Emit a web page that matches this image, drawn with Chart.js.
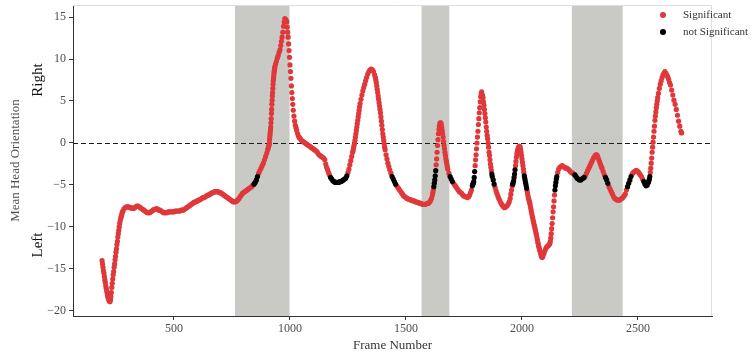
<!DOCTYPE html>
<html>
<head>
<meta charset="utf-8">
<script src="https://cdn.jsdelivr.net/npm/chart.js@4/dist/chart.umd.min.js"></script>
<style>
  html, body { margin: 0; padding: 0; background: #ffffff; }
  #wrap { width: 752px; height: 356px; }
</style>
</head>
<body>
<div id="wrap"><canvas id="chart" width="752" height="356"></canvas></div>
<script>
// Mean head orientation per video frame: [frame, degrees]
const headOrientation = [
  [190,-14.0],[192,-14.4],[194,-14.8],[196,-15.2],[198,-15.5],[200,-15.9],[202,-16.3],[204,-16.6],
  [206,-17.0],[208,-17.3],[210,-17.6],[212,-17.9],[214,-18.2],[216,-18.4],[218,-18.6],[220,-18.7],
  [222,-18.8],[224,-18.9],[226,-18.7],[228,-18.3],[230,-17.8],[232,-17.2],[234,-16.7],[236,-16.2],
  [238,-15.7],[240,-15.3],[242,-14.8],[244,-14.4],[246,-13.9],[248,-13.5],[250,-13.0],[252,-12.6],
  [254,-12.1],[256,-11.7],[258,-11.2],[260,-10.8],[262,-10.4],[264,-10.0],[266,-9.6],[268,-9.3],
  [270,-9.0],[272,-8.8],[274,-8.6],[276,-8.4],[278,-8.2],[280,-8.1],[285,-7.8],[290,-7.7],[295,-7.6],
  [300,-7.6],[305,-7.6],[310,-7.7],[315,-7.7],[320,-7.8],[325,-7.8],[330,-7.7],[335,-7.6],[340,-7.5],
  [345,-7.5],[350,-7.6],[355,-7.7],[360,-7.8],[365,-7.9],[370,-8.0],[375,-8.1],[380,-8.2],[385,-8.3],
  [390,-8.3],[395,-8.3],[400,-8.2],[405,-8.1],[410,-8.0],[415,-7.9],[420,-7.9],[425,-7.8],[430,-7.9],
  [435,-8.0],[440,-8.0],[445,-8.1],[450,-8.2],[455,-8.3],[460,-8.3],[465,-8.3],[470,-8.3],[475,-8.2],
  [480,-8.2],[485,-8.2],[490,-8.2],[495,-8.2],[500,-8.2],[505,-8.1],[510,-8.1],[515,-8.1],[520,-8.1],
  [525,-8.1],[530,-8.0],[535,-8.0],[540,-8.0],[545,-7.9],[550,-7.8],[555,-7.7],[560,-7.6],[565,-7.5],
  [570,-7.4],[575,-7.3],[580,-7.2],[585,-7.1],[590,-7.0],[595,-7.0],[600,-6.9],[605,-6.8],[610,-6.8],
  [615,-6.7],[620,-6.6],[625,-6.5],[630,-6.5],[635,-6.4],[640,-6.3],[645,-6.2],[650,-6.2],[655,-6.1],
  [660,-6.0],[665,-5.9],[670,-5.9],[675,-5.8],[680,-5.8],[685,-5.8],[690,-5.8],[695,-5.9],[700,-5.9],
  [705,-6.0],[710,-6.1],[715,-6.2],[720,-6.3],[725,-6.4],[730,-6.5],[735,-6.6],[740,-6.7],[745,-6.8],
  [750,-6.9],[755,-7.0],[760,-7.0],[765,-7.0],[770,-6.9],[775,-6.8],[780,-6.6],[785,-6.4],[790,-6.2],
  [795,-6.0],[800,-5.9],[805,-5.8],[810,-5.7],[815,-5.6],[820,-5.5],[825,-5.4],[830,-5.3],[835,-5.2],
  [840,-5.0],[845,-4.9],[850,-4.7],[855,-4.4],[860,-4.0],[865,-3.6],[870,-3.3],[875,-3.0],[880,-2.7],
  [885,-2.4],[890,-2.0],[895,-1.6],[900,-1.2],[904,-0.8],[906,-0.6],[908,-0.4],[910,-0.2],[911,0.0],
  [912,0.4],[913,0.7],[914,1.0],[915,1.3],[916,1.6],[917,1.9],[918,2.4],[919,2.9],[920,3.5],[921,4.0],
  [922,4.6],[923,5.1],[924,5.6],[925,6.0],[926,6.5],[927,7.0],[928,7.4],[929,7.7],[930,8.0],[931,8.3],
  [932,8.5],[933,8.7],[934,8.9],[935,9.1],
  [938,9.4],[941,9.7],[945,10.1],[949,10.4],[953,10.8],[957,11.1],[960,11.6],[963,12.1],[966,12.6],
  [969,13.2],[972,13.9],[975,14.4],[978,14.8],[981,14.7],[984,14.6],[986,14.4],[988,13.8],[990,13.2],
  [992,12.6],[994,11.8],[996,11.0],[998,10.2],[1000,9.3],[1002,8.5],[1004,7.7],[1006,6.8],[1008,6.0],
  [1010,5.3],[1012,4.6],[1014,3.9],[1017,3.2],[1020,2.6],[1023,2.1],[1026,1.8],[1029,1.5],[1033,1.1],
  [1037,0.8],[1041,0.6],[1045,0.5],[1050,0.3],[1055,0.2],[1060,0.1],[1065,0.0],[1070,-0.1],[1075,-0.2],
  [1080,-0.3],[1085,-0.4],[1090,-0.5],[1095,-0.6],[1100,-0.7],[1105,-0.8],[1110,-0.9],[1115,-1.0],
  [1120,-1.2],[1125,-1.4],[1130,-1.5],[1135,-1.6],[1140,-1.7],[1145,-1.8],[1150,-2.0],[1154,-2.5],
  [1158,-2.9],[1162,-3.2],[1166,-3.5],[1170,-3.8],[1175,-4.1],[1180,-4.3],[1185,-4.5],[1190,-4.6],
  [1195,-4.7],[1200,-4.7],[1205,-4.7],[1210,-4.7],[1215,-4.6],[1220,-4.6],[1225,-4.5],[1230,-4.4],
  [1235,-4.3],[1240,-4.2],[1245,-3.9],[1250,-3.5],[1254,-3.1],[1258,-2.6],[1262,-2.1],[1266,-1.6],
  [1270,-1.1],[1272,-0.9],[1274,-0.6],[1276,-0.3],[1278,0.0],[1280,0.3],[1282,0.7],[1284,1.1],
  [1286,1.5],[1288,1.9],[1290,2.3],[1292,2.7],[1294,3.1],[1296,3.5],[1298,3.9],[1300,4.3],[1302,4.7],
  [1306,5.2],[1310,5.7],[1314,6.2],[1318,6.6],[1322,7.0],[1326,7.4],[1330,7.8],[1335,8.2],[1340,8.5],
  [1345,8.7],[1350,8.8],[1355,8.7],[1360,8.5],[1365,8.1],[1368,7.8],[1370,7.5],[1372,7.2],[1374,6.8],
  [1376,6.4],[1378,6.0],[1380,5.6],[1382,5.2],[1384,4.8],[1386,4.4],[1388,4.0],[1390,3.6],[1392,3.1],
  [1394,2.6],[1396,2.1],[1398,1.6],[1400,1.1],[1402,0.7],[1404,0.3],[1406,-0.1],[1408,-0.5],
  [1410,-0.8],[1414,-1.4],[1418,-1.9],
  [1422,-2.4],[1426,-2.8],[1430,-3.2],[1435,-3.6],[1440,-4.0],[1445,-4.3],[1450,-4.6],[1455,-4.9],
  [1460,-5.1],[1465,-5.3],[1470,-5.5],[1475,-5.7],[1480,-5.9],[1485,-6.1],[1490,-6.3],[1495,-6.4],
  [1500,-6.5],[1505,-6.6],[1510,-6.7],[1515,-6.7],[1520,-6.8],[1525,-6.8],[1530,-6.9],[1535,-6.9],
  [1540,-7.0],[1545,-7.0],[1550,-7.1],[1555,-7.1],[1560,-7.2],[1565,-7.2],[1570,-7.3],[1575,-7.3],
  [1580,-7.3],[1585,-7.3],[1590,-7.2],[1595,-7.2],[1600,-7.1],[1605,-6.9],[1610,-6.6],[1614,-6.2],
  [1616,-5.9],[1618,-5.6],[1620,-5.2],[1622,-4.8],[1624,-4.4],[1626,-3.9],[1628,-3.3],[1630,-2.6],
  [1632,-1.9],[1634,-1.1],[1636,-0.3],[1638,0.4],[1640,1.1],[1642,1.6],[1644,2.0],[1646,2.3],
  [1648,2.4],[1650,2.4],[1652,2.2],[1654,1.9],[1656,1.5],[1658,1.1],[1660,0.7],[1662,0.2],
  [1664,-0.3],[1666,-0.7],[1668,-1.1],[1670,-1.5],[1672,-1.9],[1674,-2.2],[1676,-2.5],[1678,-2.8],
  [1680,-3.1],[1685,-3.6],[1690,-4.0],[1695,-4.3],[1700,-4.6],
  [1705,-4.8],[1710,-5.0],[1715,-5.2],[1720,-5.4],[1725,-5.6],[1730,-5.8],[1735,-5.9],[1740,-6.0],
  [1745,-6.2],[1750,-6.3],[1755,-6.4],[1760,-6.4],[1765,-6.5],[1770,-6.4],[1774,-6.2],[1778,-5.9],
  [1782,-5.6],[1786,-5.1],[1788,-4.9],[1790,-4.8],[1792,-4.6],[1794,-4.1],[1796,-3.4],[1798,-2.7],
  [1800,-2.0],[1802,-1.4],[1804,-0.7],[1806,0.0],[1808,0.7],[1810,1.4],[1812,2.2],[1814,2.9],
  [1816,3.6],[1818,4.2],[1820,4.9],[1822,5.5],[1824,5.9],[1826,6.1],[1828,5.8],[1830,5.6],[1832,5.4],
  [1834,4.9],[1836,4.5],[1838,4.0],[1840,3.5],[1842,3.0],[1844,2.5],[1846,1.9],[1848,1.4],[1850,0.9],
  [1852,0.5],[1854,0.0],[1856,-0.5],[1858,-1.1],[1860,-1.5],[1862,-2.0],[1864,-2.5],[1866,-2.9],
  [1868,-3.3],[1870,-3.7],[1872,-4.0],[1876,-4.4],[1880,-4.9],
  [1884,-5.3],[1888,-5.7],[1892,-6.0],[1896,-6.3],[1900,-6.6],[1905,-6.9],[1910,-7.2],[1915,-7.4],
  [1920,-7.6],[1925,-7.7],[1930,-7.6],[1935,-7.5],[1940,-7.3],[1945,-7.0],[1949,-6.6],[1952,-6.1],
  [1955,-5.6],[1958,-5.1],[1960,-4.9],[1962,-4.7],[1964,-4.5],[1966,-4.1],[1968,-3.7],[1970,-3.2],
  [1972,-2.7],[1974,-2.2],[1976,-1.7],[1978,-1.3],[1980,-1.0],[1982,-0.8],[1984,-0.6],[1986,-0.5],
  [1988,-0.4],[1990,-0.4],[1992,-0.5],[1994,-0.8],[1996,-1.1],[1998,-1.5],[2000,-1.9],[2002,-2.3],
  [2004,-2.7],[2006,-3.1],[2008,-3.5],[2010,-3.9],[2012,-4.2],[2014,-4.5],[2016,-4.8],[2018,-5.1],
  [2020,-5.4],[2022,-5.7],[2024,-6.0],[2026,-6.3],[2028,-6.6],
  [2030,-6.8],[2032,-7.0],[2034,-7.2],[2036,-7.5],[2038,-7.8],[2040,-8.1],[2042,-8.4],[2044,-8.7],
  [2046,-8.9],[2048,-9.2],[2050,-9.4],[2052,-9.7],[2054,-9.9],[2056,-10.2],[2058,-10.4],[2060,-10.7],
  [2062,-10.9],[2064,-11.2],[2066,-11.5],[2068,-11.8],[2070,-12.0],[2072,-12.3],[2074,-12.5],
  [2076,-12.7],[2078,-12.9],[2080,-13.1],[2082,-13.3],[2084,-13.5],[2086,-13.6],[2088,-13.6],
  [2090,-13.5],[2094,-13.2],[2098,-12.9],[2102,-12.6],[2106,-12.4],[2110,-12.3],[2114,-12.2],
  [2117,-12.1],[2120,-12.0],[2122,-11.7],[2124,-11.3],[2126,-10.8],[2128,-10.2],[2130,-9.6],
  [2132,-8.9],[2134,-8.2],[2136,-7.6],[2138,-6.9],[2140,-6.2],[2142,-5.6],[2144,-5.1],[2146,-4.7],
  [2148,-4.3],[2150,-4.0],[2154,-3.5],[2158,-3.1],[2163,-2.9],[2168,-2.8],
  [2173,-2.7],[2178,-2.8],[2183,-2.9],[2188,-3.0],[2193,-3.0],[2198,-3.1],[2203,-3.2],[2208,-3.4],
  [2213,-3.5],[2218,-3.6],[2223,-3.7],[2228,-3.8],[2233,-4.0],[2238,-4.2],[2243,-4.3],[2248,-4.4],
  [2253,-4.4],[2258,-4.3],[2263,-4.2],[2268,-4.1],[2273,-3.9],[2278,-3.6],[2283,-3.3],[2288,-3.0],
  [2293,-2.7],[2298,-2.4],[2303,-2.1],[2308,-1.8],[2313,-1.6],[2318,-1.4],[2322,-1.4],[2326,-1.6],
  [2330,-1.9],[2334,-2.2],[2338,-2.5],[2342,-2.8],[2345,-3.0],[2350,-3.4],[2355,-3.8],[2360,-4.1],
  [2365,-4.4],[2370,-4.8],[2375,-5.2],[2380,-5.5],[2385,-5.8],[2390,-6.1],[2395,-6.4],[2400,-6.6],
  [2405,-6.7],[2410,-6.8],[2415,-6.8],[2420,-6.8],[2425,-6.7],[2430,-6.6],[2435,-6.5],[2440,-6.3],
  [2445,-6.1],[2450,-5.6],[2455,-5.2],[2460,-4.8],[2465,-4.4],[2470,-4.0],[2475,-3.7],[2480,-3.5],
  [2485,-3.4],[2490,-3.3],[2495,-3.3],[2500,-3.4],[2505,-3.6],[2510,-3.8],[2515,-4.0],[2520,-4.3],
  [2525,-4.6],[2530,-4.9],[2535,-5.1],[2540,-5.0],[2545,-4.7],[2547,-4.5],[2549,-4.3],[2551,-4.0],
  [2553,-3.5],[2555,-3.0],[2557,-2.4],[2559,-1.8],[2561,-1.1],[2563,-0.5],[2565,0.1],[2567,0.7],
  [2569,1.4],[2571,2.0],[2573,2.7],[2575,3.2],[2577,3.7],[2579,4.2],[2581,4.6],[2583,5.0],[2585,5.4],
  [2588,5.9],[2592,6.5],[2596,7.0],[2600,7.4],[2604,7.8],[2608,8.1],[2612,8.3],[2616,8.5],
  [2620,8.3],[2624,8.1],[2628,7.9],[2632,7.6],[2636,7.2],[2640,6.9],[2645,6.3],[2650,5.7],[2655,5.1],
  [2660,4.6],[2665,4.0],[2670,3.3],[2675,2.6],[2680,2.0],[2685,1.4],[2688,1.2]
];

// Frame ranges where the orientation is not significant
const nonSignificantFrames = [
  [845,860],[1172,1248],[1440,1456],[1620,1629],[1690,1702],[1786,1796],[1870,1882],
  [1960,1970],[2010,2020],[2142,2150],[2224,2268],[2358,2370],[2455,2470],[2524,2552]
];

// Stimulus periods (grey bands), in frames
const shadedFrames = [[763,998],[1567,1687],[2215,2434]];

const xTickValues = [500, 1000, 1500, 2000, 2500];
const yTickValues = [-20, -15, -10, -5, 0, 5, 10, 15];

const seriesNames = ['Significant', 'not Significant'];
const seriesColors = ['#E0383A', '#000000'];

const SERIF = "'Liberation Serif', 'DejaVu Serif', serif";

const isNonSig = f => nonSignificantFrames.some(([a, b]) => f >= a && f <= b);
const sigPoints = headOrientation.filter(([f]) => !isNonSig(f)).map(([x, y]) => ({x, y}));
const nonSigPoints = headOrientation.filter(([f]) => isNonSig(f)).map(([x, y]) => ({x, y}));

const decor = {
  id: 'decor',
  beforeDatasetsDraw(chart) {
    const {ctx, chartArea: a, scales: {x, y}} = chart;
    ctx.save();
    ctx.fillStyle = '#c9cac6';
    for (const [f0, f1] of shadedFrames) {
      const p0 = x.getPixelForValue(f0), p1 = x.getPixelForValue(f1);
      ctx.fillRect(p0, a.top, p1 - p0, a.bottom - a.top);
    }
    // light frame on the top and right of the panel
    ctx.strokeStyle = '#dedede';
    ctx.lineWidth = 1;
    ctx.beginPath();
    ctx.moveTo(a.left, a.top + 0.5);
    ctx.lineTo(a.right - 0.5, a.top + 0.5);
    ctx.lineTo(a.right - 0.5, a.bottom);
    ctx.stroke();
    // zero reference
    const y0 = Math.round(y.getPixelForValue(0)) + 0.5;
    ctx.strokeStyle = '#1a1a1a';
    ctx.lineWidth = 1.1;
    ctx.setLineDash([5, 3]);
    ctx.beginPath();
    ctx.moveTo(a.left, y0);
    ctx.lineTo(a.right, y0);
    ctx.stroke();
    ctx.restore();
  },
  afterDraw(chart) {
    const {ctx, chartArea: a} = chart;
    ctx.save();
    ctx.textAlign = 'center';
    ctx.textBaseline = 'middle';

    const vText = (txt, cx, cy, font, color) => {
      ctx.save();
      ctx.translate(cx, cy);
      ctx.rotate(-Math.PI / 2);
      ctx.font = font;
      ctx.fillStyle = color;
      ctx.fillText(txt, 0, 0);
      ctx.restore();
    };
    vText('Mean Head Orientation', 16, (a.top + a.bottom) / 2, `13px ${SERIF}`, '#4d4d4d');
    vText('Right', 38, 80, `15px ${SERIF}`, '#111111');
    vText('Left', 38, 245, `15px ${SERIF}`, '#111111');

    ctx.font = `13px ${SERIF}`;
    ctx.fillStyle = '#333333';
    ctx.fillText('Frame Number', (a.left + a.right) / 2, 346);

    // legend
    ctx.textAlign = 'left';
    ctx.font = `11px ${SERIF}`;
    seriesNames.forEach((name, i) => {
      const cy = 15 + i * 17;
      ctx.fillStyle = seriesColors[i];
      ctx.beginPath();
      ctx.arc(663, cy, 3, 0, Math.PI * 2);
      ctx.fill();
      ctx.fillStyle = '#333333';
      ctx.fillText(name, 683, cy + 0.5);
    });
    ctx.restore();
  }
};

new Chart(document.getElementById('chart'), {
  type: 'scatter',
  data: {
    datasets: [
      { label: seriesNames[0], data: sigPoints, backgroundColor: seriesColors[0],
        pointRadius: 2.6, borderWidth: 0, order: 1 },
      { label: seriesNames[1], data: nonSigPoints, backgroundColor: seriesColors[1],
        pointRadius: 2.6, borderWidth: 0, order: 0 }
    ]
  },
  options: {
    responsive: false,
    animation: false,
    devicePixelRatio: 1,
    events: [],
    layout: { padding: { top: 5, right: 40, bottom: 0, left: 0 } },
    plugins: { legend: { display: false }, tooltip: { enabled: false } },
    scales: {
      x: {
        type: 'linear',
        min: 64.7,
        max: 2819,
        afterBuildTicks: axis => { axis.ticks = xTickValues.map(v => ({ value: v })); },
        afterFit: axis => { axis.height = 40; axis.paddingLeft = 0; axis.paddingRight = 0; },
        grid: { drawOnChartArea: false, drawTicks: true, tickLength: 4, color: '#333333', lineWidth: 1 },
        border: { display: true, color: '#333333', width: 1 },
        ticks: { color: '#4d4d4d', padding: 2, maxRotation: 0,
                 font: { family: SERIF, size: 12 }, callback: v => String(v) }
      },
      y: {
        type: 'linear',
        min: -20.6,
        max: 16.43,
        afterBuildTicks: axis => { axis.ticks = yTickValues.map(v => ({ value: v })); },
        afterFit: axis => { axis.width = 73; axis.paddingTop = 0; axis.paddingBottom = 0; },
        grid: { drawOnChartArea: false, drawTicks: true, tickLength: 4, color: '#333333', lineWidth: 1 },
        border: { display: true, color: '#333333', width: 1 },
        ticks: { color: '#4d4d4d', padding: 3,
                 font: { family: SERIF, size: 12 },
                 callback: v => (v < 0 ? '\u2212' + Math.abs(v) : String(v)) }
      }
    }
  },
  plugins: [decor]
});
</script>
</body>
</html>
